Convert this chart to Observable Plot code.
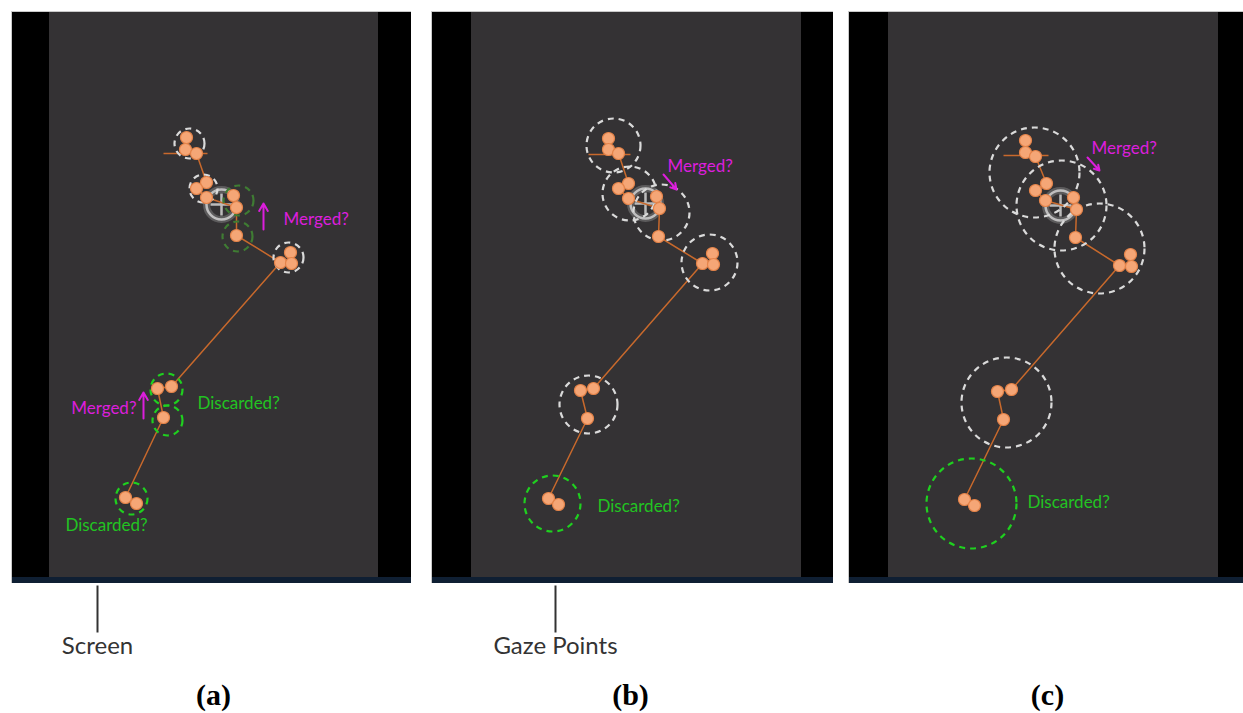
<!DOCTYPE html>
<html>
<head>
<meta charset="utf-8">
<script src="https://cdn.jsdelivr.net/npm/d3@7"></script>
<script src="https://cdn.jsdelivr.net/npm/@observablehq/plot@0.6"></script>
<style>
  html, body { margin: 0; padding: 0; background: #ffffff; }
  #chart svg { display: block; }
</style>
</head>
<body>
<div id="chart"></div>
<script>
// ---------- data (image coordinates) ----------
const panelNames  = ["a", "b", "c"];
const panelLabels = ["(a)", "(b)", "(c)"];
const panelLeft   = [12, 432, 849];
const panelRight  = [411, 833, 1243];
const screenLeft  = [49, 471, 888];
const screenRight = [378, 801, 1218];
const panelTop = 12, screenBottom = 577, panelBottom = 583;
const panelLabelX = [213, 630, 1047];

// gaze points (orange dots)
const gazeA = [[186,137],[185,149],[196,153],[206,182],[196,188],[206,197],[233,195],[236,207],[236,235],[290,252],[280,262],[291,263],[171,386],[157,388],[163,417],[125,497],[136,503]];
const gazeB = [[608,138],[608,149],[618,153],[628,183],[618,188],[628,198],[656,196],[659,208],[658,236],[712,253],[702,263],[713,264],[593,388],[580,390],[587,418],[548,498],[558,504]];
const gazeC = [[1025,140],[1025,152],[1035,156],[1046,183],[1035,190],[1045,200],[1073,197],[1076,209],[1075,237],[1130,254],[1119,265],[1131,266],[1011,389],[997,391],[1003,419],[964,499],[974,505]];

// scanpath (orange line)
const pathA = [[196,153],[206,182],[196,188],[206,197],[236,207],[236,235],[280,262],[171,386],[157,388],[163,417],[125,497],[136,503]];
const pathB = [[618,153],[628,183],[618,188],[628,198],[659,208],[658,236],[702,263],[593,388],[580,390],[587,418],[548,498],[558,504]];
const pathC = [[1035,156],[1046,183],[1035,190],[1045,200],[1076,209],[1075,237],[1119,265],[1011,389],[997,391],[1003,419],[964,499],[974,505]];

// short horizontal trail at the start
const startTrail = [[163,207,153],[588,630,154],[1003,1048,155]];

// crosshair (gaze cursor)
const cursors = [[221,204],[645,203],[1060,205]];

// dashed fixation circles: x, y, radius, kind
const circlesA = [[189,143,15,"white"],[203,188,14,"white"],[238,200,15,"dim"],[237,236,15,"dim"],[288,257,15,"white"],[166,389,16,"green"],[167,420,15,"green"],[131,498,16,"green"]];
const circlesB = [[613,145,27,"white"],[629,193,27,"white"],[661,212,28,"white"],[709,262,28,"white"],[588,404,29,"white"],[552,503,28,"green"]];
const circlesC = [[1034,172,45,"white"],[1061,205,45,"white"],[1099,248,45,"white"],[1006,402,45,"white"],[971,503,45,"green"]];

// annotations: x, y, text, colour kind, anchor
const notes = [
  [283,219,"Merged?","magenta","start"],
  [136,408,"Merged?","magenta","end"],
  [197,403,"Discarded?","green","start"],
  [106,525,"Discarded?","green","middle"],
  [667,166,"Merged?","magenta","start"],
  [597,506,"Discarded?","green","start"],
  [1091,148,"Merged?","magenta","start"],
  [1027,502,"Discarded?","green","start"]
];
const arrows = [[263,229,263,203],[143,418,143,392],[663,174,676,189],[1087,157,1099,170]];

// callouts below the panels
const callouts = [[97,"Screen"],[555,"Gaze Points"]];
const calloutTop = 585, calloutBottom = 632, calloutTextY = 646, panelLabelY = 695;

// ---------- build tables ----------
const idx = [0, 1, 2];
const gaze = [gazeA, gazeB, gazeC].flatMap((g, i) => g.map(([x, y]) => ({panel: panelNames[i], x, y})));
const paths = [pathA, pathB, pathC].flatMap((g, i) => g.map(([x, y]) => ({panel: panelNames[i], x, y})));
const circles = [circlesA, circlesB, circlesC].flatMap((g, i) => g.map(([x, y, r, kind]) => ({panel: panelNames[i], x, y, r, kind})));
const noteRows = notes.map(([x, y, text, kind, anchor]) => ({x, y, text, kind, anchor}));

const MAGENTA = "#dc1edc", GREEN_TXT = "#22c322", GREEN = "#1fd01f", DIM = "#3f7c33", WHITE = "#dadada";
const ARM = 11;

const noteMark = anchor => Plot.text(noteRows.filter(d => d.anchor === anchor), {
  x: "x", y: "y", text: "text", textAnchor: anchor,
  fill: d => d.kind === "magenta" ? MAGENTA : GREEN_TXT,
  fontSize: 17, fontFamily: "Lato, sans-serif", lineAnchor: "middle"
});

const chart = Plot.plot({
  width: 1243,
  height: 713,
  margin: 0,
  x: {domain: [0, 1243], range: [0, 1243], axis: null},
  y: {domain: [0, 713], range: [0, 713], axis: null},
  r: {type: "identity"},
  color: {type: "identity"},
  style: {background: "#ffffff", fontFamily: "Lato, 'Open Sans', sans-serif"},
  marks: [
    // panels
    Plot.rect(idx, {x1: i => panelLeft[i] - 1, x2: i => panelRight[i], y1: panelTop - 1, y2: panelBottom, fill: "#c9c9c9"}),
    Plot.rect(idx, {x1: i => panelLeft[i], x2: i => panelRight[i], y1: panelTop, y2: panelBottom, fill: "#000000"}),
    Plot.rect(idx, {x1: i => screenLeft[i], x2: i => screenRight[i], y1: panelTop, y2: screenBottom, fill: "#343234"}),
    Plot.rect(idx, {x1: i => panelLeft[i], x2: i => panelRight[i], y1: screenBottom, y2: panelBottom, fill: "#0f1f33"}),

    // gaze cursor
    Plot.dot(cursors, {x: d => d[0], y: d => d[1], r: 15, fill: "none", stroke: "#a8a8a8", strokeWidth: 7, strokeOpacity: 0.35}),
    Plot.dot(cursors, {x: d => d[0], y: d => d[1], r: 15, fill: "none", stroke: "#c4c4c4", strokeWidth: 2.5, strokeOpacity: 0.95}),
    Plot.link(cursors, {x1: d => d[0] - ARM, x2: d => d[0] + ARM, y1: d => d[1], y2: d => d[1], stroke: "#bcbcbc", strokeWidth: 2.5}),
    Plot.link(cursors, {x1: d => d[0], x2: d => d[0], y1: d => d[1] - ARM, y2: d => d[1] + ARM, stroke: "#bcbcbc", strokeWidth: 2.5}),

    // scanpath
    Plot.link(startTrail, {x1: d => d[0], x2: d => d[1], y1: d => d[2], y2: d => d[2], stroke: "#c8692c", strokeWidth: 1.5}),
    Plot.line(paths, {x: "x", y: "y", z: "panel", stroke: "#c8692c", strokeWidth: 1.5, curve: "linear"}),

    // dashed circles
    Plot.dot(circles.filter(d => d.kind === "white"), {x: "x", y: "y", r: "r", fill: "none", stroke: WHITE, strokeWidth: 2.2, strokeDasharray: "6,5"}),
    Plot.dot(circles.filter(d => d.kind === "dim"), {x: "x", y: "y", r: "r", fill: "none", stroke: DIM, strokeWidth: 2.2, strokeDasharray: "6,5"}),
    Plot.dot(circles.filter(d => d.kind === "green"), {x: "x", y: "y", r: "r", fill: "none", stroke: GREEN, strokeWidth: 2.2, strokeDasharray: "6,5"}),

    // gaze points
    Plot.dot(gaze, {x: "x", y: "y", r: 6, fill: "#f5a676", stroke: "#e5844a", strokeWidth: 1.2}),

    // annotations
    Plot.arrow(arrows, {x1: d => d[0], y1: d => d[1], x2: d => d[2], y2: d => d[3], stroke: MAGENTA, strokeWidth: 2, headLength: 7}),
    noteMark("start"),
    noteMark("end"),
    noteMark("middle"),

    // callouts
    Plot.link(callouts, {x1: d => d[0], x2: d => d[0], y1: calloutTop, y2: calloutBottom, stroke: "#333333", strokeWidth: 2}),
    Plot.text(callouts, {x: d => d[0], y: calloutTextY, text: d => d[1], fill: "#333333", fontSize: 24, fontFamily: "Lato, sans-serif", lineAnchor: "middle"}),

    // panel labels
    Plot.text(idx, {x: i => panelLabelX[i], y: panelLabelY, text: i => panelLabels[i], fill: "#000000", fontSize: 30, fontWeight: "bold", fontFamily: "'Liberation Serif', 'DejaVu Serif', serif", lineAnchor: "middle"})
  ]
});
document.getElementById("chart").append(chart);
</script>
</body>
</html>
